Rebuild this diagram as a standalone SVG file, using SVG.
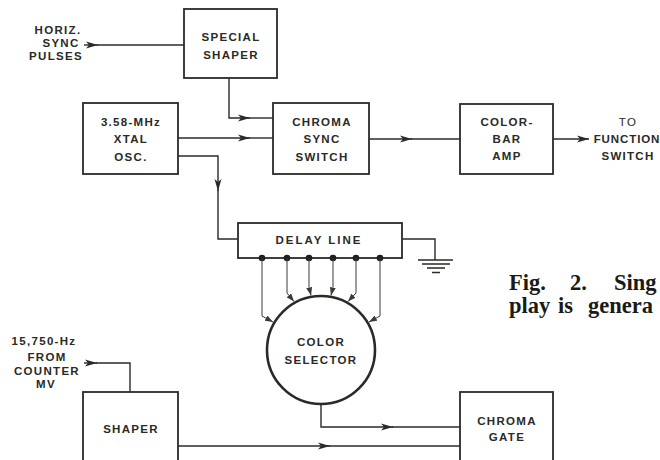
<svg xmlns="http://www.w3.org/2000/svg" width="660" height="460" viewBox="0 0 660 460">
<defs>
<style>
.box{fill:none;stroke:#2a2a26;stroke-width:1.8}
.ln{fill:none;stroke:#2a2a26;stroke-width:1.4}
.tap{fill:none;stroke:#3a3a36;stroke-width:1}
.t{font-family:"Liberation Sans",Arial,sans-serif;font-size:11.5px;font-weight:bold;letter-spacing:1.3px;fill:#2a2a26;text-anchor:middle}
.cap{font-family:"Liberation Serif","Times New Roman",serif;font-size:22.5px;font-weight:bold;fill:#1a1a16}
</style>
<marker id="ah" viewBox="0 0 12 8" refX="12" refY="4" markerWidth="13" markerHeight="8" markerUnits="userSpaceOnUse" orient="auto">
<path d="M0 0.5 L12 4 L0 7.5 L3 4 Z" fill="#2a2a26"/>
</marker>
<marker id="sa" viewBox="0 0 8 6" refX="8" refY="3" markerWidth="8" markerHeight="6" markerUnits="userSpaceOnUse" orient="auto">
<path d="M0 0 L8 3 L0 6 Z" fill="#3a3a36"/>
</marker>
</defs>
<rect width="660" height="460" fill="#ffffff"/>

<g id="horiz-label">
<text class="t" x="58" y="34">HORIZ.</text>
<text class="t" x="61" y="47">SYNC</text>
<text class="t" x="56" y="60">PULSES</text>
</g>
<g id="special-shaper">
<rect class="box" x="184" y="9" width="93" height="69"/>
<text class="t" x="231" y="41">SPECIAL</text>
<text class="t" x="231" y="59">SHAPER</text>
</g>
<g id="xtal-osc">
<rect class="box" x="83" y="103" width="95" height="71"/>
<text class="t" x="131" y="126">3.58-MHz</text>
<text class="t" x="131" y="143">XTAL</text>
<text class="t" x="131" y="161">OSC.</text>
</g>
<g id="chroma-sync-switch">
<rect class="box" x="273" y="103" width="96" height="71"/>
<text class="t" x="322" y="126">CHROMA</text>
<text class="t" x="322" y="143">SYNC</text>
<text class="t" x="322" y="161">SWITCH</text>
</g>
<g id="color-bar-amp">
<rect class="box" x="460" y="104" width="93" height="70"/>
<text class="t" x="507" y="126">COLOR-</text>
<text class="t" x="507" y="143">BAR</text>
<text class="t" x="507" y="160">AMP</text>
</g>
<g id="function-switch-label">
<text class="t" x="628" y="126" style="font-weight:normal">TO</text>
<text class="t" x="627" y="143" style="letter-spacing:0.9px">FUNCTION</text>
<text class="t" x="628" y="160">SWITCH</text>
</g>
<g id="delay-line">
<rect class="box" x="238" y="223" width="164" height="35"/>
<text class="t" x="319" y="244" style="letter-spacing:2px">DELAY LINE</text>
</g>
<g id="ground">
<path class="ln" d="M418 260 H453 M422 264 H450 M427 268 H445 M432 272.5 H440"/>
</g>
<g id="color-selector">
<circle cx="321" cy="350" r="54" fill="none" stroke="#2a2a26" stroke-width="2.6"/>
<text class="t" x="321" y="346">COLOR</text>
<text class="t" x="321" y="364">SELECTOR</text>
</g>
<g id="counter-label">
<text class="t" x="44" y="345">15,750-Hz</text>
<text class="t" x="47" y="361">FROM</text>
<text class="t" x="47" y="375">COUNTER</text>
<text class="t" x="46" y="388">MV</text>
</g>
<g id="shaper">
<rect class="box" x="83" y="392" width="95" height="80"/>
<text class="t" x="131" y="433">SHAPER</text>
</g>
<g id="chroma-gate">
<rect class="box" x="460" y="392" width="93" height="80"/>
<text class="t" x="507" y="425">CHROMA</text>
<text class="t" x="507" y="441">GATE</text>
</g>

<g id="connectors">
<path class="ln" d="M84 45 H98" marker-end="url(#ah)"/>
<path class="ln" d="M97 45 H184"/>
<path class="ln" d="M229 78 V118 H250" marker-end="url(#ah)"/>
<path class="ln" d="M249 118 H273"/>
<path class="ln" d="M178 138 H250" marker-end="url(#ah)"/>
<path class="ln" d="M249 138 H273"/>
<path class="ln" d="M178 156 H218 V191" marker-end="url(#ah)"/>
<path class="ln" d="M218 190 V239 H238"/>
<path class="ln" d="M369 139 H412" marker-end="url(#ah)"/>
<path class="ln" d="M411 139 H460"/>
<path class="ln" d="M553 139 H589" marker-end="url(#ah)"/>
<path class="ln" d="M402 239 H435 V260"/>
<g fill="#1f1f1b">
<circle cx="262" cy="258" r="3.3"/>
<circle cx="287" cy="258" r="3.3"/>
<circle cx="309" cy="258" r="3.3"/>
<circle cx="333" cy="258" r="3.3"/>
<circle cx="356" cy="258" r="3.3"/>
<circle cx="380" cy="258" r="3.3"/>
</g>
<path class="tap" d="M262 258 V316 L273 322" marker-end="url(#sa)"/>
<path class="tap" d="M287 258 V293 L294 301.5" marker-end="url(#sa)"/>
<path class="tap" d="M309 258 V287 L311 295.4" marker-end="url(#sa)"/>
<path class="tap" d="M333 258 V287 L331 295.4" marker-end="url(#sa)"/>
<path class="tap" d="M356 258 V293 L348 301.5" marker-end="url(#sa)"/>
<path class="tap" d="M380 258 V316 L369 322" marker-end="url(#sa)"/>
<path class="ln" d="M321 404 V427 H393" marker-end="url(#ah)"/>
<path class="ln" d="M392 427 H460"/>
<path class="ln" d="M178 446 H330" marker-end="url(#ah)"/>
<path class="ln" d="M329 446 H460"/>
<path class="ln" d="M84 363 H97" marker-end="url(#ah)"/>
<path class="ln" d="M96 363 H130 V392"/>
</g>

<g id="caption">
<text class="cap" x="509" y="290">Fig.</text>
<text class="cap" x="570" y="290">2.</text>
<text class="cap" x="614" y="290">Sing</text>
<text class="cap" x="509" y="313">play</text>
<text class="cap" x="558" y="313">is</text>
<text class="cap" x="588" y="313">genera</text>
</g>
</svg>
